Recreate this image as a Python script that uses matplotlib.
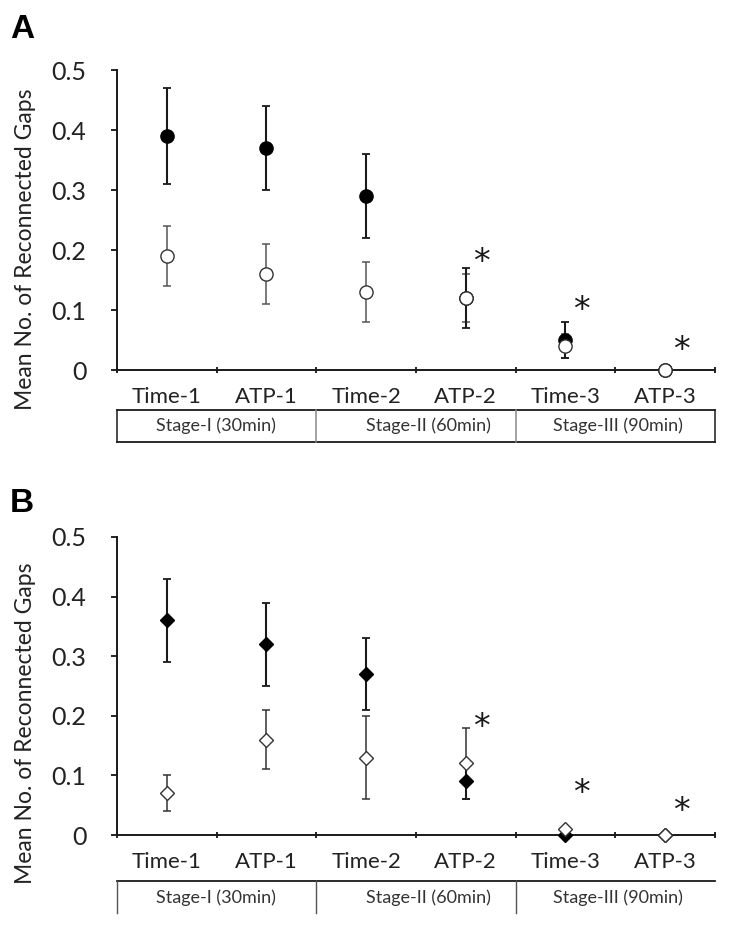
import matplotlib
matplotlib.use("Agg")
import matplotlib.pyplot as plt
from matplotlib.lines import Line2D

plt.rcParams['font.family'] = ['Lato', 'DejaVu Sans']

# categories / stages
categories = ['Time-1', 'ATP-1', 'Time-2', 'ATP-2', 'Time-3', 'ATP-3']
stages = ['Stage-I (30min)', 'Stage-II (60min)', 'Stage-III (90min)']
yticks = [0, 0.1, 0.2, 0.3, 0.4, 0.5]
ytick_labels = ['0', '0.1', '0.2', '0.3', '0.4', '0.5']

# panel A (circles)
a_filled = [0.39, 0.37, 0.29, 0.12, 0.05, 0.0]
a_filled_err = [0.08, 0.07, 0.07, 0.05, 0.03, 0.0]
a_open = [0.19, 0.16, 0.13, 0.12, 0.04, 0.0]
a_open_err = [0.05, 0.05, 0.05, 0.04, 0.02, 0.0]
a_star_idx = [3, 4, 5]
a_star_y = [0.18, 0.10, 0.033]

# panel B (diamonds)
b_filled = [0.36, 0.32, 0.27, 0.09, 0.0, 0.0]
b_filled_err = [0.07, 0.07, 0.06, 0.03, 0.0, 0.0]
b_open = [0.07, 0.16, 0.13, 0.12, 0.01, 0.0]
b_open_err = [0.03, 0.05, 0.07, 0.06, 0.0, 0.0]
b_star_idx = [3, 4, 5]
b_star_y = [0.18, 0.07, 0.04]

fig = plt.figure(figsize=(7.31, 9.36), dpi=100)
ax_a = fig.add_axes([0.160, 0.6047, 0.818, 0.3205])
ax_b = fig.add_axes([0.160, 0.1079, 0.818, 0.3184])

xpos = [i + 0.5 for i in range(len(categories))]


def draw_panel(ax, filled, filled_err, opened, opened_err, marker, ms, star_idx, star_y, open_ecolor):
    ax.errorbar(xpos, opened, yerr=opened_err, fmt='none', ecolor=open_ecolor,
                elinewidth=1.1, capsize=3, capthick=1.1, clip_on=False, zorder=2)
    ax.errorbar(xpos, filled, yerr=filled_err, fmt='none', ecolor='#1a1a1a',
                elinewidth=1.5, capsize=3, capthick=1.3, clip_on=False, zorder=2)
    ax.plot(xpos, filled, linestyle='none', marker=marker, ms=ms, mfc='black',
            mec='black', clip_on=False, zorder=3)
    ax.plot(xpos, opened, linestyle='none', marker=marker, ms=ms, mfc='white',
            mec='#333333', mew=1.0, clip_on=False, zorder=4)
    for i, y in zip(star_idx, star_y):
        ax.text(xpos[i] + 0.16, y, '*', fontsize=24, ha='center', va='center',
                family='DejaVu Sans', color='#1a1a1a')

    ax.set_xlim(0, 6)
    ax.set_ylim(0, 0.5)
    ax.set_yticks(yticks)
    ax.set_yticklabels(ytick_labels, fontsize=18, color='#222222')
    ax.set_xticks(range(7))
    ax.set_xticklabels([])
    ax.set_xticks(xpos, categories, minor=True)
    ax.tick_params(axis='x', which='minor', length=0, labelsize=16, pad=12,
                   labelcolor='#222222')
    ax.tick_params(axis='x', which='major', direction='inout', length=5, width=1.2)
    ax.tick_params(axis='y', direction='out', length=4, width=1.2, pad=18)
    for s in ['top', 'right']:
        ax.spines[s].set_visible(False)
    for s in ['left', 'bottom']:
        ax.spines[s].set_linewidth(1.4)
        ax.spines[s].set_color('#1a1a1a')


draw_panel(ax_a, a_filled, a_filled_err, a_open, a_open_err, 'o', 9.5,
           a_star_idx, a_star_y, '#555555')
draw_panel(ax_b, b_filled, b_filled_err, b_open, b_open_err, 'D', 7.5,
           b_star_idx, b_star_y, '#333333')

stage_edges = [0, 2, 4, 6]
stage_text_x = [0.99, 3.13, 5.03]

# stage box A (closed rectangle)
tr = ax_a.get_xaxis_transform()
top, bot, mid = -0.133, -0.24, -0.185
ax_a.add_line(Line2D([0, 6], [top, top], transform=tr, color='#1a1a1a', lw=1.3, clip_on=False))
ax_a.add_line(Line2D([0, 6], [bot, bot], transform=tr, color='#1a1a1a', lw=1.3, clip_on=False))
for e in stage_edges:
    c = '#1a1a1a' if e in (0, 6) else '#888888'
    ax_a.add_line(Line2D([e, e], [top, bot], transform=tr, color=c, lw=1.1, clip_on=False))
for x, s in zip(stage_text_x, stages):
    ax_a.text(x, mid, s, transform=tr, ha='center', va='center', fontsize=13,
              color='#333333')

# stage box B (open at bottom and right)
tr = ax_b.get_xaxis_transform()
top, bot, mid = -0.154, -0.262, -0.211
ax_b.add_line(Line2D([0, 6], [top, top], transform=tr, color='#1a1a1a', lw=1.3, clip_on=False))
for e in stage_edges[:-1]:
    ax_b.add_line(Line2D([e, e], [top, bot], transform=tr, color='#555555', lw=1.0, clip_on=False))
for x, s in zip(stage_text_x, stages):
    ax_b.text(x, mid, s, transform=tr, ha='center', va='center', fontsize=13,
              color='#333333')

# y labels and panel letters
fig.text(0.035, 1 - 249 / 936, 'Mean No. of Reconnected Gaps', rotation=90,
         ha='center', va='center', fontsize=16.5, color='#222222')
fig.text(0.035, 1 - 723 / 936, 'Mean No. of Reconnected Gaps', rotation=90,
         ha='center', va='center', fontsize=16.5, color='#222222')
fig.text(0.014, 1 - 30 / 936, 'A', fontsize=24, fontweight='bold',
         family='Liberation Sans', ha='left', va='center')
fig.text(0.014, 1 - 504 / 936, 'B', fontsize=24, fontweight='bold',
         family='Liberation Sans', ha='left', va='center')

plt.savefig('out.png', dpi=100)
plt.close()
